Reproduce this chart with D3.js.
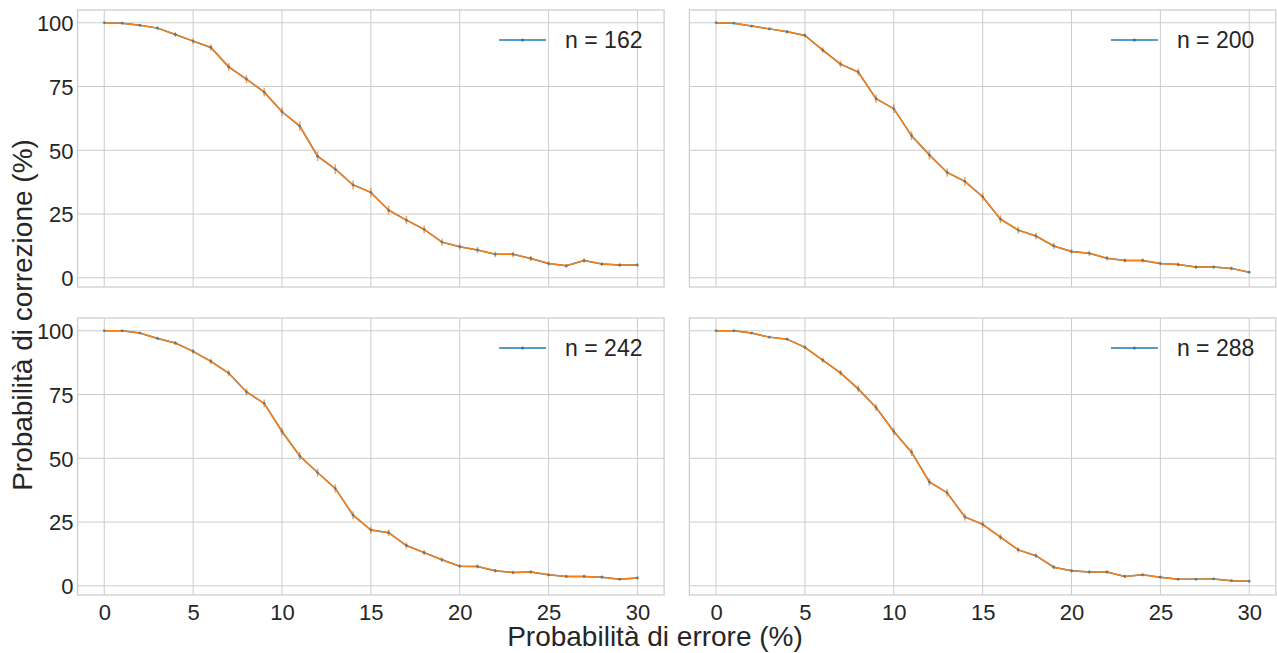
<!DOCTYPE html>
<meta charset="utf-8">
<style>
body { margin: 0; background: #fff; }
text { font-family: "Liberation Sans", Arial, sans-serif; fill: #262626; }
.grid line { stroke: #cccccc; stroke-width: 1; }
.tick text { font-size: 22px; }
</style>
<body>
<script src="https://d3js.org/d3.v7.min.js"></script>
<script>
// probabilita' di errore (%) on the x axis
var errorProb = [0,1,2,3,4,5,6,7,8,9,10,11,12,13,14,15,16,17,18,19,20,21,22,23,24,25,26,27,28,29,30];

var panelLabels = ["n = 162", "n = 200", "n = 242", "n = 288"];

// probabilita' di correzione (%) for each n
var corr162 = [100,99.8,99.0,97.9,95.4,92.8,90.3,82.7,77.9,72.8,65.1,59.5,47.7,42.6,36.4,33.5,26.5,22.6,19.0,14.0,12.2,10.9,9.2,9.2,7.6,5.6,4.7,6.8,5.4,5.0,5.0];
var corr200 = [100,99.8,98.7,97.6,96.5,95.0,89.3,83.8,80.7,70.2,66.3,55.7,48.2,41.3,37.8,31.8,23.0,18.7,16.4,12.5,10.3,9.6,7.7,6.8,6.8,5.6,5.2,4.2,4.2,3.7,2.2];
var corr242 = [100,100,99.1,97.0,95.2,91.9,88.0,83.4,76.0,71.5,60.5,50.9,44.4,38.2,27.7,21.9,20.8,15.8,13.0,10.2,7.7,7.6,5.9,5.2,5.4,4.3,3.7,3.7,3.4,2.6,3.1];
var corr288 = [100,100,99.1,97.5,96.7,93.5,88.5,83.5,77.2,69.9,60.5,52.4,40.7,36.5,27.0,24.1,19.1,14.1,11.8,7.3,5.9,5.4,5.4,3.7,4.3,3.4,2.6,2.6,2.7,2.0,1.8];

// half length of the error bars
var err162 = [0,0.3,0.5,0.7,0.9,1.1,1.3,1.5,1.6,1.7,1.8,1.8,1.9,1.9,1.8,1.8,1.7,1.6,1.5,1.4,1.3,1.2,1.1,1.1,1.0,0.9,0.8,0.9,0.8,0.8,0.8];
var err200 = [0,0.3,0.5,0.6,0.7,0.8,1.1,1.3,1.4,1.6,1.7,1.7,1.8,1.7,1.7,1.6,1.5,1.4,1.3,1.2,1.0,1.0,0.9,0.8,0.8,0.8,0.8,0.7,0.7,0.7,0.5];
var err242 = [0,0,0.4,0.6,0.7,0.9,1.1,1.2,1.4,1.5,1.6,1.6,1.6,1.6,1.5,1.4,1.3,1.2,1.0,0.9,0.8,0.8,0.7,0.7,0.7,0.6,0.6,0.6,0.6,0.5,0.6];
var err288 = [0,0,0.3,0.5,0.6,0.8,1.0,1.1,1.3,1.4,1.5,1.5,1.5,1.5,1.4,1.3,1.2,1.0,0.9,0.8,0.7,0.7,0.7,0.6,0.6,0.6,0.5,0.5,0.5,0.5,0.5];

var xTicks = [0,5,10,15,20,25,30];
var yTicks = [0,25,50,75,100];

var series = [corr162, corr200, corr242, corr288];
var errors = [err162, err200, err242, err288];

var W = 1277, H = 653;
var panelW = 586.5, panelH = 277;
var lefts = [77.6, 689.4], tops = [10, 318];

var svg = d3.select("body").append("svg").attr("width", W).attr("height", H);

var x = d3.scaleLinear().domain([-1.5, 31.5]).range([0, panelW]);
var y = d3.scaleLinear().domain([-3.6, 105]).range([panelH, 0]);

var line = d3.line().x(function(d){ return x(d.x); }).y(function(d){ return y(d.y); });

series.forEach(function(vals, i){
	var row = Math.floor(i/2), col = i % 2;
	var g = svg.append("g").attr("transform", "translate(" + lefts[col] + "," + tops[row] + ")");
	var pts = vals.map(function(v, j){ return {x: errorProb[j], y: v, e: errors[i][j]}; });

	// grid
	var grid = g.append("g").attr("class", "grid");
	grid.selectAll(".gx").data(xTicks).enter().append("line")
		.attr("x1", d=>x(d)).attr("x2", d=>x(d)).attr("y1", 0).attr("y2", panelH);
	grid.selectAll(".gy").data(yTicks).enter().append("line")
		.attr("y1", d=>y(d)).attr("y2", d=>y(d)).attr("x1", 0).attr("x2", panelW);

	// axes (labels only on outer panels)
	var xa = d3.axisBottom(x).tickValues(xTicks).tickSize(0).tickPadding(5);
	var ya = d3.axisLeft(y).tickValues(yTicks).tickSize(0).tickPadding(4);
	var gx = g.append("g").attr("transform", "translate(0," + panelH + ")").call(xa);
	var gy = g.append("g").call(ya);
	gx.select(".domain").remove(); gy.select(".domain").remove();
	if (row == 0) gx.selectAll("text").remove();
	if (col == 1) gy.selectAll("text").remove();
	gx.selectAll("text").attr("dy", "0.9em");
	gy.selectAll("text").attr("dy", "0.36em");

	// blue line with markers
	g.append("path").datum(pts).attr("d", line)
		.attr("fill", "none").attr("stroke", "#1f77b4").attr("stroke-width", 1.5);

	// orange errorbar line
	g.append("path").datum(pts).attr("d", line)
		.attr("fill", "none").attr("stroke", "#ff7f0e").attr("stroke-width", 1.5);
	g.selectAll(".eb").data(pts).enter().append("line")
		.attr("x1", d=>x(d.x)).attr("x2", d=>x(d.x))
		.attr("y1", d=>y(d.y - d.e)).attr("y2", d=>y(d.y + d.e))
		.attr("stroke", "#ff7f0e").attr("stroke-opacity", 0.75).attr("stroke-width", 1.5);

	g.selectAll(".dot").data(pts).enter().append("circle")
		.attr("cx", d=>x(d.x)).attr("cy", d=>y(d.y)).attr("r", 1.4)
		.attr("fill", "#1f77b4").attr("fill-opacity", 0.7);

	// frame
	g.append("rect").attr("width", panelW).attr("height", panelH)
		.attr("fill", "none").attr("stroke", "#cccccc").attr("stroke-width", 1.25);

	// legend
	var lg = g.append("g").attr("transform", "translate(" + (panelW - 165) + ",30)");
	lg.append("line").attr("x1", 0).attr("x2", 47).attr("stroke", "#1f77b4").attr("stroke-width", 1.5);
	lg.append("circle").attr("cx", 23.5).attr("r", 1.5).attr("fill", "#1f77b4");
	lg.append("text").attr("x", 66).attr("y", 8).style("font-size", "23px").text(panelLabels[i]);
});

svg.append("text").attr("x", 655).attr("y", 646).attr("text-anchor", "middle")
	.style("font-size", "28px").text("Probabilità di errore (%)");
svg.append("text").attr("transform", "translate(32,315) rotate(-90)").attr("text-anchor", "middle")
	.style("font-size", "28px").text("Probabilità di correzione (%)");
</script>
</body>
